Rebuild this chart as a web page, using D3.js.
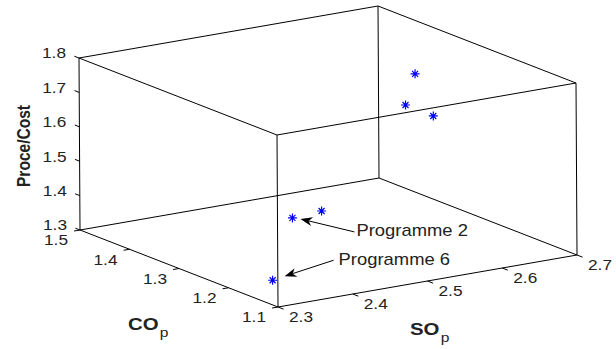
<!DOCTYPE html>
<html>
<head>
<meta charset="utf-8">
<script src="https://cdn.jsdelivr.net/npm/d3@7"></script>
<style>
  body { margin: 0; background: #fff; }
  text { font-family: "Liberation Sans", Arial, sans-serif; fill: #222; }
</style>
</head>
<body>
<div id="chart"></div>
<script>
// data (3D points: CO_p, SO_p, Price/Cost)
const coValues    = [1.30, 1.35, 1.25, 1.30, 1.25, 1.15];
const soValues    = [2.617, 2.637, 2.608, 2.491, 2.419, 2.326];
const ratioValues = [1.746, 1.620, 1.655, 1.395, 1.430, 1.340];

const coTicks    = [1.1, 1.2, 1.3, 1.4, 1.5];
const soTicks    = [2.3, 2.4, 2.5, 2.6, 2.7];
const ratioTicks = [1.3, 1.4, 1.5, 1.6, 1.7, 1.8];

const noteLabels = ['Programme 2', 'Programme 6'];
const notePoints = [4, 5];

const width = 616, height = 349;

// projection of the 3d box onto the page (orthographic, MATLAB-like view)
const origin = [278, 307];      // CO=1.1, SO=2.3, ratio=1.3
const coVec = [-198, -77];      // CO 1.1 -> 1.5
const soVec = [299, -52];       // SO 2.3 -> 2.7
const zVec = [-1, -172];        // ratio 1.3 -> 1.8

const co = d3.scaleLinear().domain([1.1, 1.5]).range([0, 1]);
const so = d3.scaleLinear().domain([2.3, 2.7]).range([0, 1]);
const rz = d3.scaleLinear().domain([1.3, 1.8]).range([0, 1]);

function project(c, s, r) {
  const u = co(c), v = so(s), w = rz(r);
  return [
    origin[0] + u * coVec[0] + v * soVec[0] + w * zVec[0],
    origin[1] + u * coVec[1] + v * soVec[1] + w * zVec[1]
  ];
}

const svg = d3.select('#chart').append('svg')
  .attr('width', width)
  .attr('height', height);

// box edges
const cLo = 1.1, cHi = 1.5, sLo = 2.3, sHi = 2.7, zLo = 1.3, zHi = 1.8;
const edges = [
  [[cHi, sLo, zLo], [cLo, sLo, zLo]], [[cLo, sLo, zLo], [cLo, sHi, zLo]],
  [[cLo, sHi, zLo], [cHi, sHi, zLo]], [[cHi, sHi, zLo], [cHi, sLo, zLo]],
  [[cHi, sLo, zHi], [cLo, sLo, zHi]], [[cLo, sLo, zHi], [cLo, sHi, zHi]],
  [[cLo, sHi, zHi], [cHi, sHi, zHi]], [[cHi, sHi, zHi], [cHi, sLo, zHi]],
  [[cHi, sLo, zLo], [cHi, sLo, zHi]], [[cLo, sLo, zLo], [cLo, sLo, zHi]],
  [[cLo, sHi, zLo], [cLo, sHi, zHi]], [[cHi, sHi, zLo], [cHi, sHi, zHi]]
];

svg.append('g').selectAll('line')
  .data(edges)
  .enter().append('line')
  .attr('x1', d => project(...d[0])[0])
  .attr('y1', d => project(...d[0])[1])
  .attr('x2', d => project(...d[1])[0])
  .attr('y2', d => project(...d[1])[1])
  .attr('stroke', '#000')
  .attr('stroke-width', 1);

function unit(v) { const l = Math.hypot(v[0], v[1]); return [v[0] / l, v[1] / l]; }
const coDir = unit(coVec), soDir = unit(soVec);
const tx = 'scale(1.15,1)';

function label(g, x, y, txt, size, anchor) {
  g.append('text')
    .attr('transform', `translate(${x},${y}) ${tx}`)
    .attr('text-anchor', anchor)
    .attr('dominant-baseline', 'middle')
    .attr('font-size', size)
    .text(txt);
}

// z ticks (left vertical edge)
const zg = svg.append('g');
ratioTicks.forEach(t => {
  const p = project(cHi, sLo, t);
  zg.append('line')
    .attr('x1', p[0]).attr('y1', p[1])
    .attr('x2', p[0] + coDir[0] * 5).attr('y2', p[1] + coDir[1] * 5)
    .attr('stroke', '#000');
  label(zg, p[0] - 13, p[1] - 3.5, t.toFixed(1), 15, 'end');
});

// CO ticks (front-left bottom edge)
const cg = svg.append('g');
coTicks.forEach(t => {
  const p = project(t, sLo, zLo);
  cg.append('line')
    .attr('x1', p[0]).attr('y1', p[1])
    .attr('x2', p[0] - soDir[0] * 6).attr('y2', p[1] - soDir[1] * 6)
    .attr('stroke', '#000');
  label(cg, p[0] - 24, p[1] + 11.5, t.toFixed(1), 15, 'middle');
});

// SO ticks (front-right bottom edge)
const sg = svg.append('g');
soTicks.forEach(t => {
  const p = project(cLo, t, zLo);
  sg.append('line')
    .attr('x1', p[0]).attr('y1', p[1])
    .attr('x2', p[0] - coDir[0] * 6).attr('y2', p[1] - coDir[1] * 6)
    .attr('stroke', '#000');
  label(sg, p[0] + 23, p[1] + 11, t.toFixed(1), 15, 'middle');
});

// axis titles
svg.append('text')
  .attr('transform', 'translate(30,146) rotate(-90) scale(1,1.15)')
  .attr('text-anchor', 'middle')
  .attr('font-size', 15.5)
  .attr('font-weight', 'bold')
  .attr('textLength', 82)
  .attr('lengthAdjust', 'spacingAndGlyphs')
  .text('Proce/Cost');

function subTitle(x, y, main, sub) {
  const t = svg.append('text')
    .attr('transform', `translate(${x},${y}) scale(1.2,1)`)
    .attr('font-size', 17)
    .attr('font-weight', 'bold');
  t.append('tspan').text(main);
  t.append('tspan').attr('dy', 7).attr('dx', 1).attr('font-size', 13)
    .attr('font-weight', 'normal').text(sub);
}
subTitle(128, 330, 'CO', 'p');
subTitle(410, 335, 'SO', 'p');

// data points, '*' markers
const pts = coValues.map((c, i) => project(c, soValues[i], ratioValues[i]));
svg.append('g').selectAll('path')
  .data(pts)
  .enter().append('path')
  .attr('transform', d => `translate(${d[0]},${d[1]})`)
  .attr('d', 'M-4.5,0H4.5M0,-4.5V4.5M-3,-3L3,3M-3,3L3,-3')
  .attr('stroke', '#0000ff')
  .attr('stroke-width', 1.2)
  .attr('fill', 'none');

// arrows with text
const tipOffset = [[8, 1], [12, -4]];
const tailOffset = [[62, 14], [61, -20]];
const textOffset = [[64, 14], [66, -19]];

noteLabels.forEach((name, i) => {
  const p = pts[notePoints[i]];
  const tip = [p[0] + tipOffset[i][0], p[1] + tipOffset[i][1]];
  const tail = [p[0] + tailOffset[i][0], p[1] + tailOffset[i][1]];
  const u = unit([tip[0] - tail[0], tip[1] - tail[1]]);
  const n = [-u[1], u[0]];
  const L = 12, W = 4.5;
  const back = [tip[0] - u[0] * L, tip[1] - u[1] * L];
  const notch = [tip[0] - u[0] * L * 0.7, tip[1] - u[1] * L * 0.7];
  svg.append('line')
    .attr('x1', tail[0]).attr('y1', tail[1])
    .attr('x2', notch[0]).attr('y2', notch[1])
    .attr('stroke', '#000');
  svg.append('path')
    .attr('d', d3.line()([tip, [back[0] + n[0] * W, back[1] + n[1] * W], notch,
      [back[0] - n[0] * W, back[1] - n[1] * W]]) + 'Z')
    .attr('fill', '#000');
  label(svg, p[0] + textOffset[i][0], p[1] + textOffset[i][1], name, 16, 'start');
});
</script>
</body>
</html>
